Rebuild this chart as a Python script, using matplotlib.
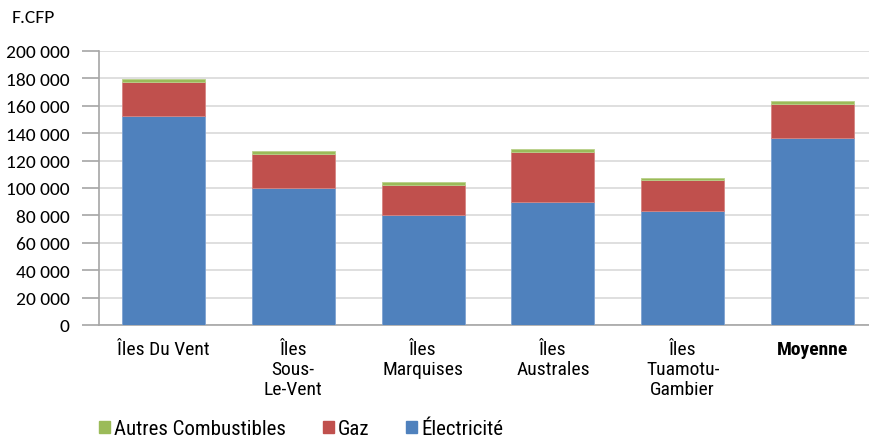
import matplotlib.pyplot as plt
from matplotlib.patches import Rectangle
from matplotlib.ticker import FuncFormatter

# données (F.CFP)
regions = ["Îles Du Vent", "Îles\nSous-\nLe-Vent", "Îles\nMarquises",
           "Îles\nAustrales", "Îles\nTuamotu-\nGambier", "Moyenne"]
electricite = [152500, 100000, 80500, 89500, 83500, 136500]
gaz = [25000, 25000, 22000, 37000, 22000, 25000]
autres = [1800, 2000, 2000, 2000, 2000, 2000]

bleu = "#4F81BD"
rouge = "#C0504D"
vert = "#9BBB59"

plt.rcParams["font.family"] = ["Carlito", "DejaVu Sans"]
etroite = ["Roboto Condensed", "DejaVu Sans"]

fig = plt.figure(figsize=(8.69, 4.39), dpi=100)
ax = fig.add_axes([98.6 / 869, 113 / 439, (869 - 98.6) / 869, 274 / 439])

x = range(len(regions))
larg = 0.64
bas_autres = [e + g for e, g in zip(electricite, gaz)]
ax.bar(x, electricite, larg, color=bleu, edgecolor="#7FA3D2", linewidth=0.6, zorder=3)
ax.bar(x, gaz, larg, bottom=electricite, color=rouge, edgecolor="#D68583", linewidth=0.6, zorder=3)
ax.bar(x, autres, larg, bottom=bas_autres, color=vert, edgecolor="#B9D18A", linewidth=0.6, zorder=3)

ax.set_xlim(-0.5, 5.435)
ax.set_ylim(0, 200000)
ax.set_yticks(range(0, 200001, 20000))
ax.yaxis.set_major_formatter(FuncFormatter(lambda v, p: f"{int(v):,}".replace(",", " ")))
ax.grid(axis="y", color="#D9D9D9", linewidth=1.2, zorder=0)

for s in ["top", "right"]:
    ax.spines[s].set_visible(False)
for s in ["left", "bottom"]:
    ax.spines[s].set_color("#A6A6A6")
    ax.spines[s].set_linewidth(1.2)
ax.tick_params(axis="y", length=12, color="#A6A6A6", width=1.2, pad=9,
               labelsize=14, labelcolor="black")
ax.tick_params(axis="x", length=0, pad=11)
ax.set_xticks(list(x))
ax.set_xticklabels(regions, fontsize=14, family=etroite, linespacing=1.15, va="top")
ax.get_xticklabels()[-1].set_fontweight("bold")

fig.text(12 / 869, 1 - 18 / 439, "F.CFP", fontsize=14, va="center", ha="left")

# légende en bas
poignees = [Rectangle((0, 0), 1, 1, color=c) for c in (vert, rouge, bleu)]
fig.legend(poignees, ["Autres Combustibles", "Gaz", "Électricité"], loc="center left",
           bbox_to_anchor=(99 / 869, 1 - 430 / 439), ncol=3, frameon=False,
           handlelength=0.53, handleheight=0.53, handletextpad=0.2, columnspacing=1.75,
           borderaxespad=0, borderpad=0, prop={"family": etroite, "size": 15})

fig.savefig("out.png", dpi=100)
